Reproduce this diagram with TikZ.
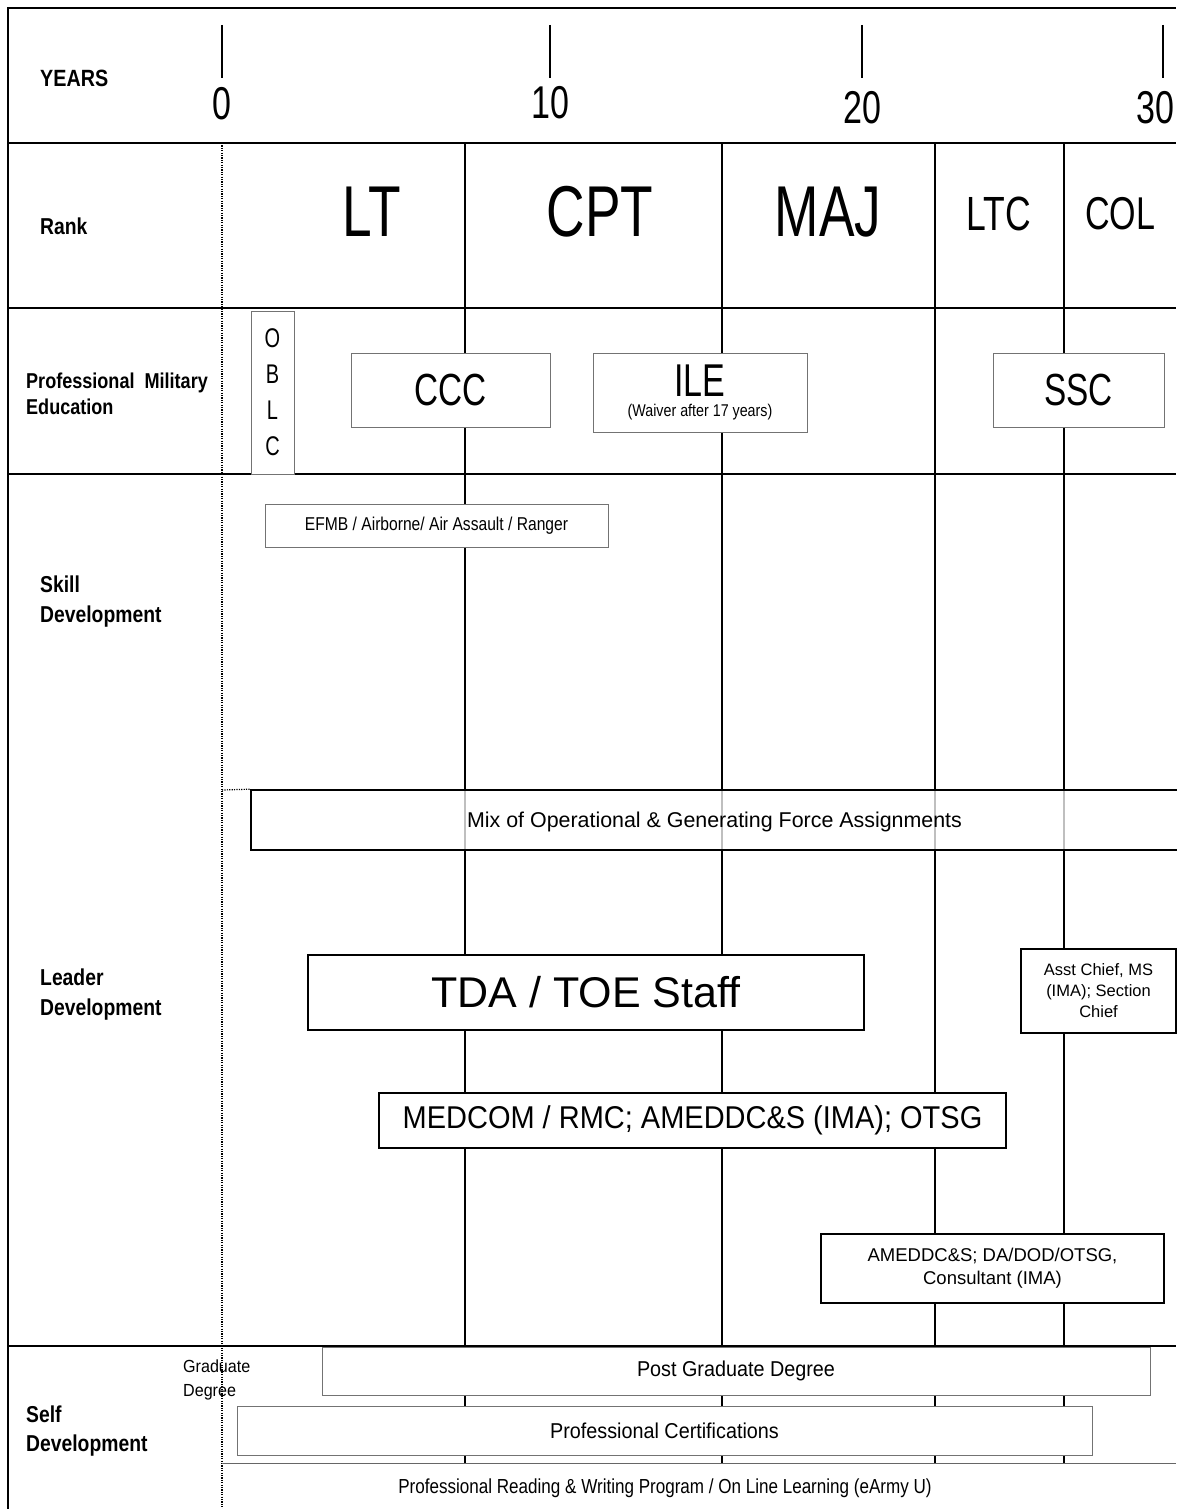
\documentclass[tikz,border=0pt]{standalone}
\usepackage{fontspec}
\setmainfont{Liberation Sans}
\newfontfamily\narrowsf[FakeStretch=0.84]{Liberation Sans}
\newfontfamily\midsf[FakeStretch=0.92]{Liberation Sans}
\newfontfamily\condsf[FakeStretch=0.74]{Liberation Sans}
\usetikzlibrary{positioning,calc}

\begin{document}
\begin{tikzpicture}[x=1pt,y=-1pt,
				frameline/.style={line width=2pt},
				gridline/.style={line width=1.3pt},
				zeroline/.style={line width=1.2pt, dash pattern=on 1.2pt off 1.2pt},
				rowlabel/.style={anchor=west, align=left, inner sep=0pt, font=\narrowsf\bfseries\fontsize{23}{30}\selectfont},
				yearnum/.style={font=\condsf\fontsize{46}{50}\selectfont},
				rankbig/.style={font=\condsf\fontsize{72}{80}\selectfont},
				ranksmall/.style={font=\condsf\fontsize{48}{52}\selectfont},
				pmebox/.style={rectangle, draw=black!55, line width=0.9pt, fill=white, inner sep=0pt, align=center},
				staffbox/.style={rectangle, draw=black, line width=1.6pt, fill=white, inner sep=0pt, align=center},
				bigtext/.style={font=\condsf\fontsize{45}{50}\selectfont},
				smalltext/.style={font=\narrowsf\fontsize{18.6}{22}\selectfont},
				selftext/.style={font=\midsf\fontsize{21.5}{24}\selectfont}
				]
				\useasboundingbox (0,0) rectangle (1176,1509);
				
				% grid
				\draw[frameline] (8,1509) -- (8,8) -- (1176,8);
				\foreach \y in {143,308,474,1346}
					\draw[frameline] (8,\y) -- (1176,\y);
				\foreach \x in {465,722,935,1064}
					\draw[gridline] (\x,143) -- (\x,1463);
				\draw[zeroline] (222,143) -- (222,1509);
				\draw[line width=0.9pt, black!60] (222,1463) -- (1176,1463);
				
				% years
				\foreach \x/\n/\ny in {222/0/104,550/10/103,862/20/108,1155/30/108}
					\node[yearnum] (year\n) at (\x,\ny) {\n};
				\foreach \x in {222,550,862,1163}
					\draw[gridline] (\x,25) -- (\x,78);
				
				% row labels
				\node[rowlabel, font=\narrowsf\bfseries\fontsize{23.5}{30}\selectfont] (years) at (40,78) {YEARS};
				\node[rowlabel] (rank) at (40,226) {Rank};
				\node[rowlabel, font=\narrowsf\bfseries\fontsize{21.5}{26}\selectfont] (pme) at (26,394) {Professional\ \ Military\\Education};
				\node[rowlabel] (skill) at (40,602) {Skill\\Development};
				\node[rowlabel] (leader) at (40,995) {Leader\\Development};
				\node[rowlabel, font=\narrowsf\bfseries\fontsize{23}{29}\selectfont] (self) at (26,1431) {Self\\Development};
				
				% ranks
				\node[rankbig] (lt) at (372,212) {LT};
				\node[rankbig] (cpt) at (600,212) {CPT};
				\node[rankbig] (maj) at (828,212) {MAJ};
				\node[ranksmall] (ltc) at (999,214) {LTC};
				\node[ranksmall, font=\condsf\fontsize{46}{50}\selectfont] (col) at (1120,214) {COL};
				
				% professional military education
				\node[pmebox, minimum width=43, minimum height=163, font=\condsf\fontsize{27}{36}\selectfont] (oblc) at (272.5,392.5) {O\\B\\L\\C};
				\node[pmebox, bigtext, minimum width=199, minimum height=74] (ccc) at (450.5,390) {CCC};
				\node[pmebox, minimum width=214, minimum height=79] (ile) at (700,392.5) {{\condsf\fontsize{46}{40}\selectfont ILE}\\[6pt]{\narrowsf\fontsize{17}{20}\selectfont (Waiver after 17 years)}};
				\node[pmebox, bigtext, minimum width=171, minimum height=74] (ssc) at (1078.5,390) {SSC};
				
				% skill development
				\node[pmebox, smalltext, minimum width=343, minimum height=43] (efmb) at (436.5,525.5) {EFMB / Airborne/ Air Assault / Ranger};
				
				% leader development
				\node[staffbox, fill opacity=0.75, text opacity=1, text depth=0pt, minimum width=927, minimum height=60, font=\fontsize{21.4}{26}\selectfont] (mix) at (714.5,820) {Mix of Operational \& Generating Force Assignments};
				\draw[zeroline] (222,790) -- (mix.north west);
				\node[staffbox, minimum width=556, minimum height=75, font=\fontsize{43}{48}\selectfont] (tda) at (586,992.5) {TDA / TOE Staff};
				\node[staffbox, minimum width=627, minimum height=55, font=\midsf\fontsize{31.5}{36}\selectfont] (medcom) at (692.5,1120.5) {MEDCOM / RMC; AMEDDC\&S (IMA); OTSG};
				\node[staffbox, minimum width=155, minimum height=84, font=\fontsize{16.5}{21}\selectfont] (asst) at (1098.5,991) {Asst Chief, MS\\(IMA); Section\\Chief};
				\node[staffbox, minimum width=343, minimum height=69, font=\fontsize{18.5}{23}\selectfont] (amed) at (992.5,1268.5) {AMEDDC\&S; DA/DOD/OTSG,\\Consultant (IMA)};
				
				% self development
				\node[pmebox, selftext, minimum width=828, minimum height=48] (postgrad) at (736,1371) {Post Graduate Degree};
				\node[pmebox, selftext, minimum width=855, minimum height=49] (cert) at (664.5,1430.5) {Professional Certifications};
				\node[font=\narrowsf\fontsize{20.3}{24}\selectfont] (reading) at (665,1488) {Professional Reading \& Writing Program / On Line Learning (eArmy U)};
				\node[anchor=west, align=left, inner sep=0pt, font=\midsf\fontsize{17.5}{24}\selectfont] (graddeg) at (183,1380) {Graduate\\Degree};
			\end{tikzpicture}
\end{document}
